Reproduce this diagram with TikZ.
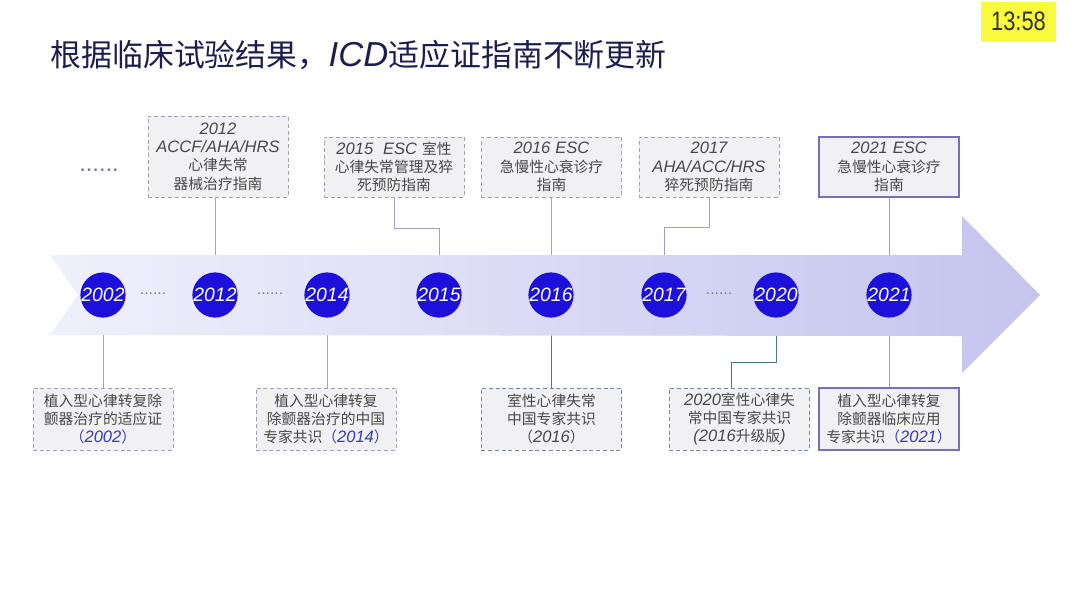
\documentclass[tikz,border=0pt]{standalone}
\usepackage{fontspec}
\setmainfont{Noto Sans CJK SC}
\newfontfamily\latin[Scale=1.12]{Liberation Sans}
\newfontfamily\clockfont[FakeStretch=0.82]{Liberation Sans}
\newcommand{\yr}[1]{{\latin\itshape #1}}
\definecolor{titlenavy}{RGB}{30,30,78}
\definecolor{yearblue}{RGB}{28,16,218}
\definecolor{boxfill}{RGB}{241,241,243}
\definecolor{boxgray}{RGB}{160,160,178}
\definecolor{boxteal}{RGB}{105,140,170}
\definecolor{boxpurple}{RGB}{122,108,192}
\definecolor{linegray}{RGB}{160,160,196}
\definecolor{lineteal}{RGB}{72,122,138}
\definecolor{textgray}{RGB}{72,72,72}
\definecolor{parblue}{RGB}{58,58,178}
\definecolor{bandleft}{RGB}{240,240,252}
\definecolor{bandright}{RGB}{196,196,238}
\definecolor{clockyellow}{RGB}{249,249,62}
\usetikzlibrary{positioning}
\begin{document}
\begin{tikzpicture}[x=0.025cm, y=-0.025cm,
            year/.style={circle, fill=yearblue, minimum size=1cm, inner sep=0pt, text=white,
              font=\latin\itshape\fontsize{12.3}{12.3}\selectfont},
            guide/.style={draw=boxgray, dash pattern=on 2.8pt off 2pt, fill=boxfill,
              minimum width=3.5cm, minimum height=1.5cm, text width=3.4cm, inner sep=0pt,
              align=center, text=textgray, font=\fontsize{10.5}{13}\selectfont},
            consensus/.style={guide, minimum height=1.55cm, draw=boxteal},
            latest/.style={guide, draw=boxpurple, solid, line width=0.8pt},
            link/.style={draw=linegray, line width=0.6pt},
            dots/.style={text=gray, font=\latin\fontsize{10}{10}\selectfont}
            ]
            \useasboundingbox (0,0) rectangle (1080,607);
            \fill[white] (0,0) rectangle (1080,607);

            \fill[clockyellow] (981,2) rectangle (1056,42);
            \node[text=black!80, font=\clockfont\fontsize{19}{19}\selectfont] (clock) at (1018.5,21) {13:58};

            \node[anchor=west, text=titlenavy, font=\fontsize{22}{26}\selectfont, inner sep=0pt] (title) at (50,55)
              {根据临床试验结果，\yr{ICD}适应证指南不断更新};

            \node[text=boxpurple, font=\latin\fontsize{15}{15}\selectfont] (more) at (99,170) {......};

            % guidelines above the band
            \node[guide, minimum height=2.025cm] (g12) at (218,156.5)
              {\yr{2012}\\\yr{ACCF/AHA/HRS}\\心律失常\\器械治疗指南};
            \node[guide] (g15) at (394,167) {\yr{2015\ \ ESC} 室性\\心律失常管理及猝\\死预防指南};
            \node[guide] (g16) at (551.5,167) {\yr{2016 ESC}\\急慢性心衰诊疗\\指南};
            \node[guide] (g17) at (709,167) {\yr{2017}\\\yr{AHA/ACC/HRS}\\猝死预防指南};
            \node[latest] (g21) at (889,167) {\yr{2021 ESC}\\急慢性心衰诊疗\\指南};

            % consensus papers below the band
            \node[guide, minimum height=1.55cm] (c02) at (103,419)
              {植入型心律转复除\\颤器治疗的适应证\\\textcolor{parblue}{（\yr{2002}）}};
            \node[guide, minimum height=1.55cm] (c14) at (326,419)
              {植入型心律转复\\除颤器治疗的中国\\专家共识\textcolor{parblue}{（\yr{2014}）}};
            \node[consensus] (c16) at (551.5,419) {室性心律失常\\中国专家共识\\（\yr{2016}）};
            \node[consensus] (c20) at (739.5,419) {\yr{2020}室性心律失\\常中国专家共识\\\yr{(2016}升级版\yr{)}};
            \node[latest, minimum height=1.55cm] (c21) at (889,419)
              {植入型心律转复\\除颤器临床应用\\专家共识\textcolor{parblue}{（\yr{2021}）}};

            \coordinate (y02) at (103,295);
            \coordinate (y12) at (215,295);
            \coordinate (y14) at (327,295);
            \coordinate (y15) at (439,295);
            \coordinate (y16) at (551,295);
            \coordinate (y17) at (664,295);
            \coordinate (y20) at (776,295);
            \coordinate (y21) at (889,295);

            \draw[link] (g12.south -| y12) -- (y12);
            \draw[link] (g15.south) -- ++(0,31) -| (y15);
            \draw[link] (g16.south -| y16) -- (y16);
            \draw[link] (g17.south) -- ++(0,30) -| (y17);
            \draw[link] (g21.south) -- (y21);
            \draw[link] (y02) -- (c02.north -| y02);
            \draw[link] (y14) -- (c14.north -| y14);
            \draw[link, draw=lineteal] (y16) -- (c16.north -| y16);
            \draw[link, draw=lineteal] (y20) -- ++(0,67) -| ([xshift=-0.19cm]c20.north);
            \draw[link] (y21) -- (c21.north);

            % the time band
            \shade[left color=bandleft, right color=bandright]
              (50,255) -- (962,255) -- (962,216) -- (1040,295) -- (962,373)
              -- (962,336) -- (50,335) -- (78,295) -- cycle;

            \node[year] (n02) at (y02) {2002};
            \node[year] (n12) at (y12) {2012};
            \node[year] (n14) at (y14) {2014};
            \node[year] (n15) at (y15) {2015};
            \node[year] (n16) at (y16) {2016};
            \node[year] (n17) at (y17) {2017};
            \node[year] (n20) at (y20) {2020};
            \node[year] (n21) at (y21) {2021};

            \node[dots] (d1) at (153,294) {......};
            \node[dots] (d2) at (270,294) {......};
            \node[dots] (d3) at (719,294) {......};

            \end{tikzpicture}
\end{document}
